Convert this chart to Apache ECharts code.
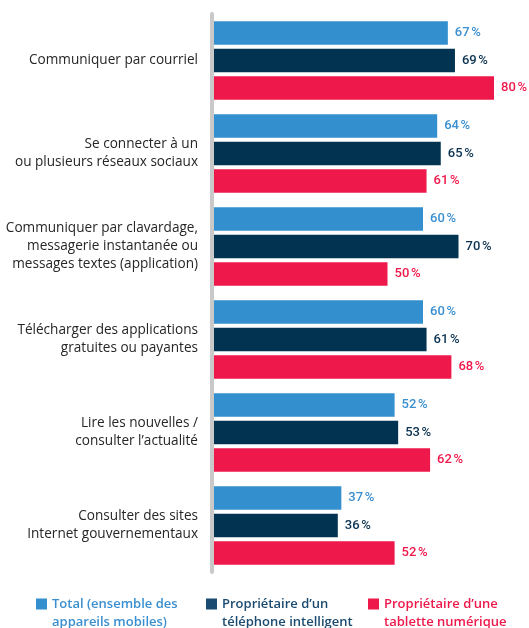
<!DOCTYPE html>
<html>
<head>
<meta charset="utf-8">
<script src="https://cdn.jsdelivr.net/npm/echarts@6/dist/echarts.min.js"></script>
<style>
  html, body { margin: 0; padding: 0; background: #fff; }
  #chart { width: 529px; height: 628px; }
</style>
</head>
<body>
<div id="chart"></div>
<script>
// Activities on mobile devices, share of users (%)
const categories = [
  'Communiquer par courriel',
  'Se connecter à un\nou plusieurs réseaux sociaux',
  'Communiquer par clavardage,\nmessagerie instantanée ou\nmessages textes (application)',
  'Télécharger des applications\ngratuites ou payantes',
  'Lire les nouvelles /\nconsulter l’actualité',
  'Consulter des sites\nInternet gouvernementaux'
];
const seriesNames = [
  'Total (ensemble des\nappareils mobiles)',
  'Propriétaire d’un\ntéléphone intelligent',
  'Propriétaire d’une\ntablette numérique'
];
const totalValues = [67, 64, 60, 60, 52, 37];
const phoneValues = [69, 65, 70, 61, 53, 36];
const tabletValues = [80, 61, 50, 68, 62, 52];

const barColors = ['#348fce', '#023452', '#ef184b'];
const labelColors = ['#3a8fd0', '#0b3351', '#ef184b'];
const legendIconColors = ['#348fce', '#1b4b70', '#ef184b'];
const legendTextColors = ['#3a8fd0', '#1b4b70', '#ef184b'];
const LABEL_FONT = '"Open Sans", "Noto Sans", sans-serif';
const VALUE_FONT = 'Roboto, "Noto Sans", sans-serif';

const valueSets = [totalValues, phoneValues, tabletValues];

const series = valueSets.map((vals, i) => ({
  name: seriesNames[i],
  type: 'bar',
  data: vals,
  barWidth: 23.5,
  barGap: '17%',
  itemStyle: { color: barColors[i] },
  label: {
    show: true,
    position: 'right',
    distance: 7,
    formatter: p => p.value + '\u202f%',
    color: labelColors[i],
    fontFamily: VALUE_FONT,
    fontSize: 13,
    fontWeight: 500
  }
}));

// Swatch shape: an 11x11 square at the top of an 11x29 box (a near-zero
// speck marks the bottom), so the two-line legend text, centred on the box,
// has its first line level with the square.
const SWATCH = 'path://M0,0H11V11H0Z M0,28.99H0.01V29H0Z';

// one legend block per series so each sits at its own column
const legendLefts = [36, 206, 368];
const legends = seriesNames.map((name, i) => ({
  show: true,
  left: legendLefts[i],
  top: 595,
  padding: 0,
  orient: 'horizontal',
  itemWidth: 11,
  itemHeight: 29,
  itemGap: 0,
  selectedMode: false,
  data: [{
    name: name,
    icon: SWATCH,
    itemStyle: { color: legendIconColors[i] },
    textStyle: { color: legendTextColors[i] }
  }],
  textStyle: {
    fontFamily: LABEL_FONT,
    fontSize: 13,
    fontWeight: 600,
    lineHeight: 18
  }
}));

const chart = echarts.init(document.getElementById('chart'), null, { renderer: 'canvas' });
chart.setOption({
  animation: false,
  backgroundColor: '#ffffff',
  grid: { left: 210, top: 14, height: 558, right: 35, containLabel: false },
  xAxis: {
    type: 'value',
    min: 0,
    max: 80,
    show: false
  },
  yAxis: {
    type: 'category',
    data: categories,
    inverse: true,
    offset: -2,
    z: 5,
    axisLine: { show: true, lineStyle: { color: '#c9c9c9', width: 4 } },
    axisTick: { show: false },
    splitLine: { show: false },
    axisLabel: {
      margin: 14,
      align: 'right',
      color: '#262626',
      fontFamily: LABEL_FONT,
      fontSize: 13.6,
      lineHeight: 18
    }
  },
  legend: legends,
  series: series
});
</script>
</body>
</html>
